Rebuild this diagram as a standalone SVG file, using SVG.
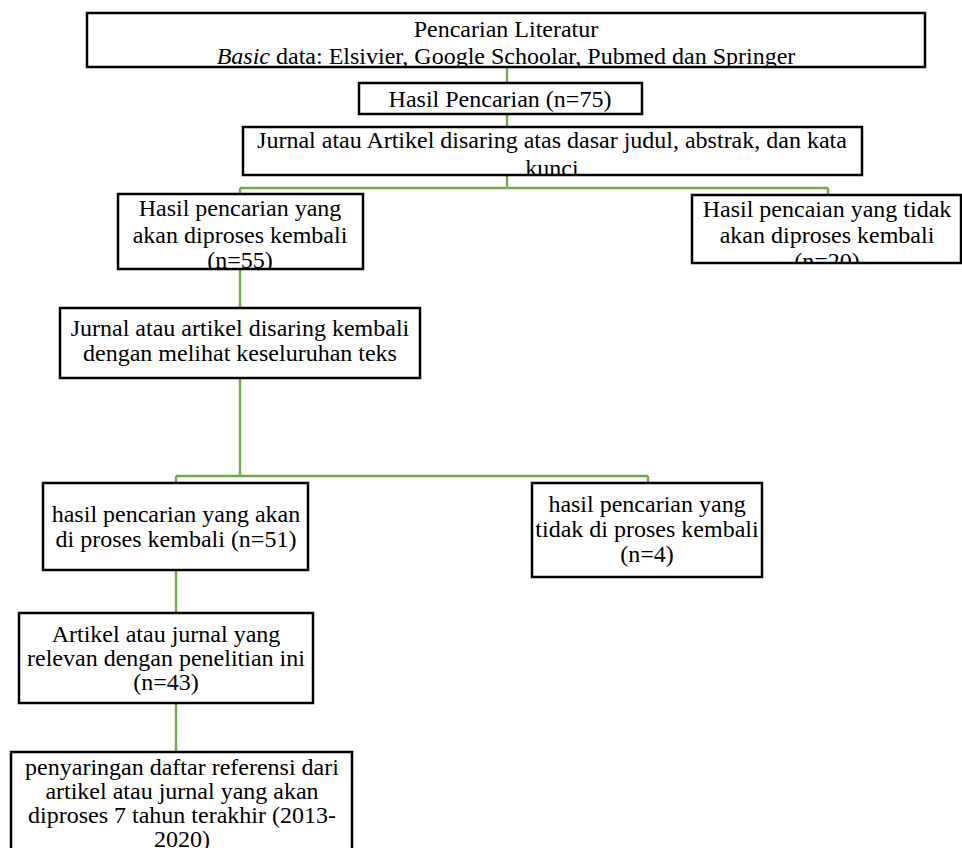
<svg xmlns="http://www.w3.org/2000/svg" width="962" height="848" viewBox="0 0 962 848">
<style>
.box{fill:#fff;stroke:#000;stroke-width:2.5}
.t{font-family:"Liberation Serif","Times New Roman",serif;font-size:24px;fill:#000;text-anchor:middle}
.c{fill:none;stroke:#70AD47;stroke-width:2.4}
</style>
<defs>
<clipPath id="c1"><rect x="88" y="14" width="836" height="52"/></clipPath>
<clipPath id="c3"><rect x="244" y="128" width="617" height="46"/></clipPath>
<clipPath id="c4"><rect x="119" y="195" width="243" height="73"/></clipPath>
<clipPath id="c5"><rect x="693" y="196" width="268" height="66"/></clipPath>
</defs>
<rect width="962" height="848" fill="#fff"/>
<g id="connectors">
<path class="c" d="M507 67V83M507 114V127M507 175V188M240 188H828M240 188V194M828 188V195"/>
<path class="c" d="M240 269V308M240 378V476M176 476H648M176 476V483M648 476V483"/>
<path class="c" d="M176 570V613M176 703V752"/>
</g>
<g id="n1">
<rect class="box" x="87" y="13" width="838" height="54"/>
<g clip-path="url(#c1)">
<text class="t" x="506" y="37">Pencarian Literatur</text>
<text class="t" x="506" y="64"><tspan font-style="italic">Basic</tspan> data: Elsivier, Google Schoolar, Pubmed dan Springer</text>
</g>
</g>
<g id="n2">
<rect class="box" x="359" y="83" width="283" height="31"/>
<text class="t" x="500" y="107">Hasil Pencarian (n=75)</text>
</g>
<g id="n3">
<rect class="box" x="243" y="127" width="619" height="48"/>
<g clip-path="url(#c3)">
<text class="t" x="552" y="148">Jurnal atau Artikel disaring atas dasar judul, abstrak, dan kata</text>
<text class="t" x="552" y="176">kunci</text>
</g>
</g>
<g id="n4">
<rect class="box" x="118" y="194" width="245" height="75"/>
<g clip-path="url(#c4)">
<text class="t" x="240" y="216">Hasil pencarian yang</text>
<text class="t" x="240" y="243">akan diproses kembali</text>
<text class="t" x="240" y="268">(n=55)</text>
</g>
</g>
<g id="n5">
<rect class="box" x="692" y="195" width="269" height="68"/>
<g clip-path="url(#c5)">
<text class="t" x="827" y="217">Hasil pencaian yang tidak</text>
<text class="t" x="827" y="243">akan diproses kembali</text>
<text class="t" x="827" y="269">(n=20)</text>
</g>
</g>
<g id="n6">
<rect class="box" x="60" y="308" width="360" height="70"/>
<text class="t" x="240" y="336">Jurnal atau artikel disaring kembali</text>
<text class="t" x="240" y="361">dengan melihat keseluruhan teks</text>
</g>
<g id="n7">
<rect class="box" x="43" y="483" width="265" height="87"/>
<text class="t" x="176" y="522">hasil pencarian yang akan</text>
<text class="t" x="176" y="547">di proses kembali (n=51)</text>
</g>
<g id="n8">
<rect class="box" x="532" y="483" width="230" height="94"/>
<text class="t" x="647" y="512">hasil pencarian yang</text>
<text class="t" x="647" y="537">tidak di proses kembali</text>
<text class="t" x="647" y="562">(n=4)</text>
</g>
<g id="n9">
<rect class="box" x="19" y="613" width="294" height="90"/>
<text class="t" x="166" y="642">Artikel atau jurnal yang</text>
<text class="t" x="166" y="666">relevan dengan penelitian ini</text>
<text class="t" x="166" y="690">(n=43)</text>
</g>
<g id="n10">
<rect class="box" x="11" y="752" width="341" height="120"/>
<text class="t" x="182" y="775">penyaringan daftar referensi dari</text>
<text class="t" x="182" y="799">artikel atau jurnal yang akan</text>
<text class="t" x="182" y="823">diproses 7 tahun terakhir (2013-</text>
<text class="t" x="182" y="847">2020)</text>
</g>
</svg>
